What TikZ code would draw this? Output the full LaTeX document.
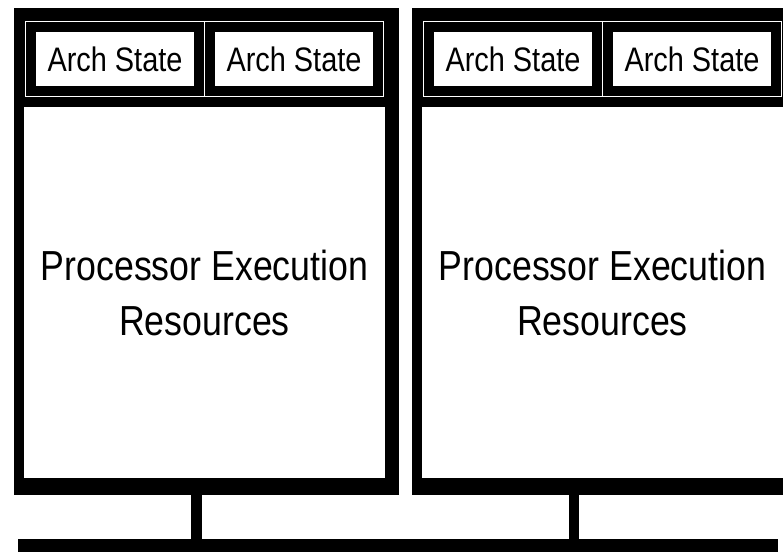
\documentclass[tikz,border=0pt]{standalone}
\usepackage{fontspec}
\newfontfamily\narrowsans{Liberation Sans}[FakeStretch=0.85]
\begin{document}
\begin{tikzpicture}[x=1pt,y=-1pt,
  frame/.style={fill=black, inner sep=0pt, minimum width=385pt, minimum height=487pt},
  body/.style={fill=white, inner sep=0pt, minimum width=361pt, minimum height=371pt,
    align=center, font=\narrowsans\fontsize{42}{55}\selectfont},
  archbox/.style={draw=white, line width=0.8pt, double=black, double distance=10pt,
    fill=white, inner sep=0pt, minimum width=168pt, minimum height=64pt,
    font=\narrowsans\fontsize{34}{40}\selectfont},
  bus/.style={fill=black, inner sep=0pt, minimum width=760pt, minimum height=24pt},
  conn/.style={line width=10.5pt}]
\useasboundingbox (0,0) rectangle (783,551);
\clip (0,0) rectangle (783,551);
\fill[white] (0,0) rectangle (783,551);

% first processor
\node[frame] (p1) at (206.5,251.5) {};
\node[body] (body1) at (204.5,292.5) {Processor Execution\\Resources};
\node[archbox] (a1) at (115,59) {Arch State};
\node[archbox] (a2) at (294,59) {Arch State};

% second processor (runs past the right edge)
\node[frame] (p2) at (604.5,251.5) {};
\node[body] (body2) at (602.5,292.5) {Processor Execution\\Resources};
\node[archbox] (a3) at (513,59) {Arch State};
\node[archbox] (a4) at (692,59) {Arch State};

% shared bus
\node[bus] (bus) at (398,551) {};

% links from each processor down to the bus
\draw[conn] ([xshift=-10pt]p1.south) -- ([xshift=-10pt]p1.south |- bus.north);
\draw[conn] ([xshift=-30.5pt]p2.south) -- ([xshift=-30.5pt]p2.south |- bus.north);
\end{tikzpicture}
\end{document}
